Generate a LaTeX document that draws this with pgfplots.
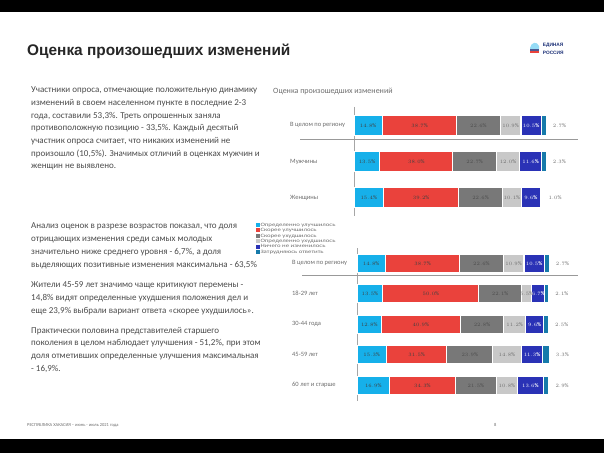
\documentclass[border=0pt]{standalone}
\usepackage{pgfplots}
\pgfplotsset{compat=1.18}
\usepackage{pgfplotstable}
\usepackage{fontspec}
\setmainfont{Carlito}
\newfontfamily\titlefont{Liberation Sans}
\newfontfamily\widefont[FakeStretch=1.35]{Carlito}

\definecolor{cLB}{RGB}{22,176,234}
\definecolor{cRD}{RGB}{234,66,60}
\definecolor{cDG}{RGB}{120,120,120}
\definecolor{cLG}{RGB}{200,200,200}
\definecolor{cDB}{RGB}{42,50,182}
\definecolor{cTL}{RGB}{22,122,170}
\definecolor{bodygray}{RGB}{75,75,75}
\definecolor{lblgray}{RGB}{110,110,110}
\definecolor{logoblue}{RGB}{30,50,120}

\pgfplotstableread{
row a b c d e f
0 14.8 38.7 22.6 10.9 10.5 2.7
1 13.5 38.0 22.7 12.0 11.6 2.3
2 15.4 39.2 22.6 10.1 9.6 1.0
}\tabTop
\pgfplotstableread{
row a b c d e f
0 14.8 38.7 22.6 10.9 10.5 2.7
1 13.5 50.0 22.1 5.5 6.7 2.1
2 12.8 40.9 22.8 11.2 9.6 2.5
3 15.3 31.5 23.9 14.8 11.3 3.3
4 16.9 34.3 21.5 10.8 13.6 2.9
}\tabAge

\newcommand{\pct}[1]{\pgfmathprintnumber[fixed,fixed zerofill,precision=1]{#1}\%}

\pgfplotsset{
  seg/.style n args={2}{fill=#1, draw=white, line width=1.1pt,
    visualization depends on={rawx \as \segw},
    nodes near coords={\pct{\segw}},
    every node near coord/.append style={anchor=center, text=#2, inner sep=0pt, font=\fontsize{5.5}{6}\selectfont},
    legend image code/.code={\fill[#1] (0pt,-1.4pt) rectangle (2.8pt,1.4pt);}},
  segout/.style={fill=#1, draw=white, line width=1.1pt,
    visualization depends on={rawx \as \segw},
    nodes near coords={\pct{\segw}},
    every node near coord/.append style={anchor=west, xshift={0.96pt*\segw+6pt}, text=lblgray, inner sep=0pt, font=\fontsize{5.5}{6}\selectfont},
    legend image code/.code={\fill[#1] (0pt,-1.4pt) rectangle (2.8pt,1.4pt);}},
  slide/.style={
    scale only axis, width=192pt, xmin=0, xmax=100, y dir=reverse,
    xbar stacked, axis x line=none, axis y line*=left,
    y axis line style={draw=gray!70, line width=0.6pt},
    major tick length=0pt, clip=false,
    yticklabel style={anchor=west, font=\fontsize{6.5}{7}\selectfont, text=lblgray, inner sep=0pt},
  },
}

\newcommand{\bodyline}[2]{\node[anchor=base west, inner sep=0pt, font=\fontsize{9}{10}\selectfont, text=bodygray] at (31pt,#1pt) {#2};}

\begin{document}
\begin{tikzpicture}
\path[use as bounding box] (0,0) rectangle (604pt,453pt);
\fill[white] (0,0) rectangle (604pt,453pt);
\fill[black] (0,441pt) rectangle (604pt,453pt);
\fill[black] (0,0) rectangle (604pt,13.7pt);

% title
\node[anchor=base west, inner sep=0pt, font=\titlefont\bfseries\fontsize{15.4}{16}\selectfont, text=black!85] at (27pt,397pt) {Оценка произошедших изменений};

% logo
\fill[cLB!45!white] (530pt,405pt) .. controls (531pt,411pt) and (537pt,412pt) .. (539pt,407pt) -- (539pt,404pt) -- (530pt,404pt) -- cycle;
\fill[logoblue!80] (530pt,402pt) rectangle (539pt,404pt);
\fill[cRD] (530pt,400pt) rectangle (539pt,402pt);
\node[anchor=base west, inner sep=0pt, font=\titlefont\bfseries\fontsize{4.8}{5}\selectfont, text=logoblue] at (542.7pt,406.3pt) {ЕДИНАЯ};
\node[anchor=base west, inner sep=0pt, font=\titlefont\bfseries\fontsize{4.8}{5}\selectfont, text=logoblue] at (542.7pt,398.7pt) {РОССИЯ};

% body text
\bodyline{360.3}{Участники опроса, отмечающие положительную динамику}
\bodyline{347.6}{изменений в своем населенном пункте в последние 2-3}
\bodyline{334.9}{года, составили 53,3\%. Треть опрошенных заняла}
\bodyline{322.2}{противоположную позицию - 33,5\%. Каждый десятый}
\bodyline{309.5}{участник опроса считает, что никаких изменений не}
\bodyline{296.8}{произошло (10,5\%). Значимых отличий в оценках мужчин и}
\bodyline{284.1}{женщин не выявлено.}

\bodyline{224.3}{Анализ оценок в разрезе возрастов показал, что доля}
\bodyline{211.5}{отрицающих изменения среди самых молодых}
\bodyline{198.7}{значительно ниже среднего уровня - 6,7\%, а доля}
\bodyline{186.0}{выделяющих позитивные изменения максимальна - 63,5\%}

\bodyline{165.3}{Жители 45-59 лет значимо чаще критикуют перемены -}
\bodyline{152.5}{14,8\% видят определенные ухудшения положения дел и}
\bodyline{139.7}{еще 23,9\% выбрали вариант ответа «скорее ухудшилось».}

\bodyline{120.0}{Практически половина представителей старшего}
\bodyline{107.3}{поколения в целом наблюдает улучшения - 51,2\%, при этом}
\bodyline{94.6}{доля отметивших определенные улучшения максимальная}
\bodyline{82.0}{- 16,9\%.}

% footer
\node[anchor=west, inner sep=0pt, font=\fontsize{4.5}{5}\selectfont, text=lblgray] at (27pt,28pt) {РЕСПУБЛИКА ХАКАСИЯ – июнь - июль 2021 года};
\node[anchor=west, inner sep=0pt, font=\fontsize{4.5}{5}\selectfont, text=lblgray] at (494pt,28pt) {8};

% chart title
\node[anchor=west, inner sep=0pt, font=\fontsize{8}{9}\selectfont, text=lblgray] at (273pt,361.3pt) {Оценка произошедших изменений};

% top chart
\begin{axis}[slide,
  at={(354pt,346pt)}, anchor=north west,
  height=108.9pt, ymin=-0.5, ymax=2.5, bar width=20pt,
  ytick={0,1,2}, yticklabels={В целом по региону,Мужчины,Женщины},
  yticklabel style={xshift=-64pt},
]
\addplot[seg={cLB}{black!75}] table[x=a, y=row] {\tabTop};
\addplot[seg={cRD}{black!75}] table[x=b, y=row] {\tabTop};
\addplot[seg={cDG}{black!70}] table[x=c, y=row] {\tabTop};
\addplot[seg={cLG}{lblgray}] table[x=d, y=row] {\tabTop};
\addplot[seg={cDB}{white}, every node near coord/.append style={font=\bfseries\fontsize{5.5}{6}\selectfont}] table[x=e, y=row] {\tabTop};
\addplot[segout=cTL] table[x=f, y=row] {\tabTop};
\draw[gray!80, line width=0.7pt] (axis cs:-28.1,0.4) -- (axis cs:116.7,0.4);
\end{axis}

% bottom chart
\begin{axis}[slide,
  at={(357pt,205pt)}, anchor=north west,
  height=152.5pt, ymin=-0.5, ymax=4.5, bar width=18pt,
  ytick={0,1,2,3,4}, yticklabels={В целом по региону,18-29 лет,30-44 года,45-59 лет,60 лет и старше},
  yticklabel style={xshift=-65pt},
  legend style={at={(axis description cs:-0.526,1.17)}, anchor=north west, draw=none, fill=none,
    font=\widefont\fontsize{5}{5}\selectfont, text=lblgray, row sep=0pt, inner sep=0pt,
    nodes={inner sep=0.4pt, text height=3.6pt, text depth=1.0pt}},
  legend cell align=left,
]
\addplot[seg={cLB}{black!75}] table[x=a, y=row] {\tabAge};
\addplot[seg={cRD}{black!75}] table[x=b, y=row] {\tabAge};
\addplot[seg={cDG}{black!70}] table[x=c, y=row] {\tabAge};
\addplot[seg={cLG}{lblgray}] table[x=d, y=row] {\tabAge};
\addplot[seg={cDB}{white}, every node near coord/.append style={font=\bfseries\fontsize{5.5}{6}\selectfont}] table[x=e, y=row] {\tabAge};
\addplot[segout=cTL] table[x=f, y=row] {\tabAge};
\legend{Определенно улучшилось,Скорее улучшилось,Скорее ухудшилось,Определенно ухудшилось,Ничего не изменилось,Затрудняюсь ответить}
\draw[gray!80, line width=0.7pt] (axis cs:-28.6,0.4) -- (axis cs:115.1,0.4);
\end{axis}
\end{tikzpicture}
\end{document}
